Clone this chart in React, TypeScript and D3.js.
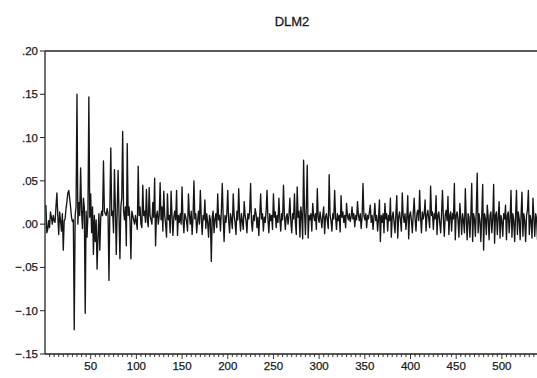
import React from 'react';
import * as d3 from 'd3';

const dlm2: number[] = [
  .022, -.010, -.006, .004, -.004, .014, .008, .000, .010, .004,
  .002, .020, .036, .010, -.012, .014, .004, -.008, .012, -.030,
  .004, .006, .018, .026, .036, .039, .030, .020, .008, .003,
  .005, -.122, .010, .020, .150, .000, .025, .010, .065, .015,
  -.005, .030, .020, -.103, .015, -.015, .012, .147, .008, .035,
  -.010, .020, -.035, .010, -.020, .005, -.052, -.015, .012, -.030,
  .008, .015, .010, .073, .015, .012, .010, .018, .012, -.065,
  .020, .088, .010, .015, -.010, .063, .020, -.035, .015, .062,
  .010, -.040, .020, .030, .107, .015, .005, .020, -.025, .093,
  .010, .020, .005, -.040, .015, .010, .005, .000, .010, .002,
  -.006, .067, .010, .020, .000, -.004, .045, .010, .015, .002,
  .040, .005, -.003, .042, .010, .005, .000, .025, .008, .053,
  -.025, .010, .015, .000, .010, .048, .005, .020, -.008, .038,
  .010, .000, -.015, .035, .005, .010, -.010, .038, .010, -.013,
  .008, .015, .005, .039, -.013, .010, .002, .012, .000, .043,
  .005, -.010, .012, .008, .003, -.008, .035, .010, .000, .015,
  -.012, .008, .050, .006, .012, -.010, .004, .015, .000, .039,
  .008, -.012, .010, .005, .028, -.005, .012, .002, -.015, .010,
  .005, -.043, .008, .015, -.010, .006, .012, -.004, .035, .005,
  .010, -.008, .015, .047, .008, -.020, .010, .002, .012, .039,
  .004, -.010, .012, .006, -.005, .035, .010, .002, -.012, .015,
  .005, .041, .008, -.008, .012, .003, -.006, .026, .010, .004,
  -.010, .012, .006, .015, .047, .002, -.008, .010, .004, .018,
  .012, -.004, .008, -.013, .010, .035, .006, .012, -.008, .008,
  .002, .015, .039, .005, -.010, .012, .004, .010, -.006, .035,
  .008, .014, -.004, .010, .002, .030, .006, -.008, .012, .005,
  .045, .010, -.006, .008, .012, .000, .010, .030, .004, -.010,
  .012, .006, .035, .002, -.012, .043, .008, .015, -.015, .020,
  .010, -.017, .074, .015, -.012, .020, .068, -.016, .010, .005,
  .012, -.008, .024, .010, .004, .012, -.006, .041, .008, .002,
  .014, .006, -.004, .010, .020, -.011, .008, .012, .004, -.005,
  .057, .010, .004, -.008, .012, .006, .039, .008, -.006, .012,
  .004, .010, -.009, .033, .008, .014, .002, .010, -.004, .024,
  .010, .005, .012, .003, .008, .020, .006, .012, -.003, .010,
  .005, .026, .010, .004, .012, -.005, .008, .047, .010, .005,
  .012, -.004, .010, .006, .014, .022, .002, .010, -.006, .008,
  .024, .004, .010, -.008, .006, .028, -.020, .010, .002, .012,
  -.010, .024, .006, .012, -.008, .010, .004, .030, -.015, .008,
  .014, .002, -.010, .012, .033, -.016, .008, .014, .004, -.008,
  .036, .010, .002, .012, -.006, .008, .033, -.017, .010, .014,
  .004, -.010, .012, .030, .006, -.008, .012, .016, .004, .039,
  .008, -.010, .014, .006, .012, .028, -.008, .010, .016, .006,
  -.004, .044, .010, .014, -.006, .012, .006, .033, -.012, .010,
  .014, .002, -.010, .012, .039, .006, -.014, .010, .016, .004,
  .032, -.012, .010, .014, -.008, .012, .006, .047, -.018, .010,
  .014, .004, -.015, .024, .008, -.012, .012, .004, -.010, .041,
  .006, -.018, .012, .008, -.015, .010, .047, -.020, .012, .006,
  -.014, .016, .059, -.010, .012, .004, -.020, .010, .046, -.030,
  .012, .006, -.012, .022, .008, -.018, .010, .014, -.010, .006,
  .046, -.022, .010, .014, -.012, .008, .026, -.016, .010, .004,
  -.014, .012, .006, .022, -.018, .010, .014, -.010, .006, .039,
  -.015, .012, .004, -.020, .010, .039, -.012, .014, .006, -.018,
  .010, .037, -.014, .012, .004, -.020, .010, .016, .039, -.012,
  .010, .004, -.016, .030, .008, -.014, .012, .006, -.018, .032,
  .010, -.012, .014, .004, .018, -.010,
];

const yTicks = [0.2, 0.15, 0.1, 0.05, 0, -0.05, -0.1, -0.15];
const xTicks = [50, 100, 150, 200, 250, 300, 350, 400, 450, 500];
const title = 'DLM2';

const W = 537;
const H = 378;
const plotLeft = 45;
const plotRight = 543;
const plotTop = 51;
const plotBottom = 354;

const fmtY = (v: number) => d3.format('.2f')(v).replace('0.', '.');

const App: React.FC = () => {
  const x = d3.scaleLinear().domain([0, 545]).range([plotLeft, plotRight]);
  const y = d3.scaleLinear().domain([-0.15, 0.2]).range([plotBottom, plotTop]);

  const line = d3
    .line<number>()
    .x((d, i) => x(i + 1))
    .y((d) => y(d));

  const minorTicks = d3.range(5, 545, 5);
  const font = '"Liberation Sans", Arial, sans-serif';

  return (
    <svg
      width={W}
      height={H}
      style={{ position: 'absolute', left: 0, top: 0, background: '#fff' }}
    >
      <text
        x={(plotLeft + plotRight) / 2 - 2}
        y={26}
        textAnchor="middle"
        fontFamily={font}
        fontSize={13}
        fill="#1a1a1a"
        stroke="#1a1a1a"
        strokeWidth={0.3}
      >
        {title}
      </text>

      <path
        d={line(dlm2) || ''}
        fill="none"
        stroke="#161616"
        strokeWidth={1.35}
        strokeLinejoin="round"
      />

      {/* frame */}
      <line x1={plotLeft} x2={plotRight} y1={plotTop} y2={plotTop} stroke="#222" strokeWidth={1.3} />
      <line x1={plotLeft} x2={plotRight} y1={plotBottom} y2={plotBottom} stroke="#222" strokeWidth={1.3} />
      <line x1={plotLeft} x2={plotLeft} y1={plotTop} y2={plotBottom} stroke="#222" strokeWidth={1.3} />

      {yTicks.map((t) => (
        <g key={t}>
          <line x1={plotLeft - 5} x2={plotLeft} y1={y(t)} y2={y(t)} stroke="#222" />
          <text
            x={plotLeft - 7}
            y={y(t)}
            dy="0.35em"
            textAnchor="end"
            fontFamily={font}
            fontSize={11.5}
            fill="#1a1a1a"
            stroke="#1a1a1a"
            strokeWidth={0.25}
          >
            {fmtY(t)}
          </text>
        </g>
      ))}

      {minorTicks.map((t) => (
        <line
          key={t}
          x1={x(t)}
          x2={x(t)}
          y1={plotBottom}
          y2={plotBottom + (t % 50 === 0 ? 5 : 3)}
          stroke="#222"
          strokeWidth={0.9}
        />
      ))}

      {xTicks.map((t) => (
        <text
          key={t}
          x={x(t)}
          y={plotBottom + 12}
          dy="0.35em"
          textAnchor="middle"
          fontFamily={font}
          fontSize={11.5}
          fill="#1a1a1a"
          stroke="#1a1a1a"
          strokeWidth={0.25}
        >
          {t}
        </text>
      ))}
    </svg>
  );
};

export default App;
